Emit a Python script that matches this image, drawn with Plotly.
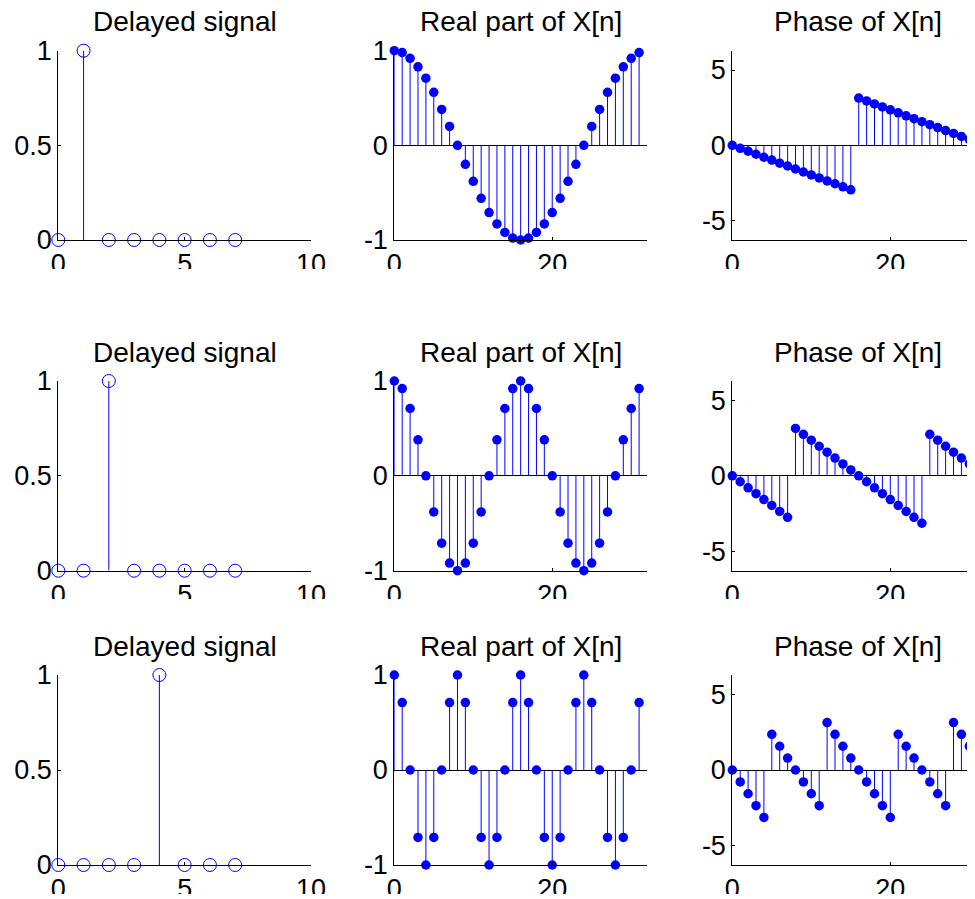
import plotly.graph_objects as go

# ---------------- data ----------------
n_sig = [0, 1, 2, 3, 4, 5, 6, 7]
delayed_1 = [0, 1, 0, 0, 0, 0, 0, 0]
delayed_2 = [0, 0, 1, 0, 0, 0, 0, 0]
delayed_3 = [0, 0, 0, 0, 1, 0, 0, 0]

k_idx = list(range(32))

real_1 = [1.00, 0.98, 0.92, 0.83, 0.71, 0.56, 0.38, 0.20, 0.00, -0.20, -0.38, -0.56,
          -0.71, -0.83, -0.92, -0.98, -1.00, -0.98, -0.92, -0.83, -0.71, -0.56, -0.38,
          -0.20, 0.00, 0.20, 0.38, 0.56, 0.71, 0.83, 0.92, 0.98]
real_2 = [1.00, 0.92, 0.71, 0.38, 0.00, -0.38, -0.71, -0.92, -1.00, -0.92, -0.71, -0.38,
          0.00, 0.38, 0.71, 0.92, 1.00, 0.92, 0.71, 0.38, 0.00, -0.38, -0.71, -0.92,
          -1.00, -0.92, -0.71, -0.38, 0.00, 0.38, 0.71, 0.92]
real_3 = [1.00, 0.71, 0.00, -0.71, -1.00, -0.71, 0.00, 0.71, 1.00, 0.71, 0.00, -0.71,
          -1.00, -0.71, 0.00, 0.71, 1.00, 0.71, 0.00, -0.71, -1.00, -0.71, 0.00, 0.71,
          1.00, 0.71, 0.00, -0.71, -1.00, -0.71, 0.00, 0.71]

phase_1 = [0.00, -0.20, -0.39, -0.59, -0.79, -0.98, -1.18, -1.37, -1.57, -1.77, -1.96,
           -2.16, -2.36, -2.55, -2.75, -2.95, 3.14, 2.95, 2.75, 2.55, 2.36, 2.16, 1.96,
           1.77, 1.57, 1.37, 1.18, 0.98, 0.79, 0.59, 0.39, 0.20]
phase_2 = [0.00, -0.39, -0.79, -1.18, -1.57, -1.96, -2.36, -2.75, 3.14, 2.75, 2.36, 1.96,
           1.57, 1.18, 0.79, 0.39, 0.00, -0.39, -0.79, -1.18, -1.57, -1.96, -2.36, -2.75,
           -3.14, 2.75, 2.36, 1.96, 1.57, 1.18, 0.79, 0.39]
phase_3 = [0.00, -0.79, -1.57, -2.36, -3.14, 2.36, 1.57, 0.79, 0.00, -0.79, -1.57, -2.36,
           3.14, 2.36, 1.57, 0.79, 0.00, -0.79, -1.57, -2.36, -3.14, 2.36, 1.57, 0.79,
           0.00, -0.79, -1.57, -2.36, 3.14, 2.36, 1.57, 0.79]

titles = ["Delayed signal", "Real part of X[n]", "Phase of X[n]"]
x_ticks = [[0, 5, 10], [0, 20], [0, 20]]
y_ticks = [[0, 0.5, 1], [-1, 0, 1], [-5, 0, 5]]
y_ticktext = [["0", "0.5", "1"], ["-1", "0", "1"], ["-5", "0", "5"]]
x_ranges = [[0, 10], [0, 32], [0, 30.72]]
y_ranges = [[0, 1], [-1, 1], [-6.2832, 6.2832]]

# ---------------- layout geometry (page pixels) ----------------
W, H = 975, 899
OFF = 8  # default page body margin
col_px = [(58.3, 311.0), (394.3, 647.0), (732.3, 975.0)]
col_full_right = [311.0, 647.0, 984.0]
row_px = [(50.7, 240.0), (381.0, 570.7), (675.0, 865.0)]

FONT = "Liberation Sans, Arial, sans-serif"
FS = 27
BLUE = "#0000FF"

rows_data = [
    (delayed_1, real_1, phase_1),
    (delayed_2, real_2, phase_2),
    (delayed_3, real_3, phase_3),
]

fig = go.Figure()
annotations = []
shapes = []
layout_axes = {}


def px_x(p):
    return (p - OFF) / W


def px_y(p):
    return 1 - (p - OFF) / H


def stems(xs, ys):
    sx, sy = [], []
    for x, y in zip(xs, ys):
        sx += [x, x, None]
        sy += [0, y, None]
    return sx, sy


idx = 0
for r in range(3):
    for c in range(3):
        idx += 1
        xa = "x" if idx == 1 else f"x{idx}"
        ya = "y" if idx == 1 else f"y{idx}"
        if c == 0:
            xs, ys = n_sig, rows_data[r][0]
        else:
            xs, ys = k_idx, rows_data[r][c]
        sx, sy = stems(xs, ys)
        fig.add_trace(go.Scatter(x=sx, y=sy, mode="lines", xaxis=xa, yaxis=ya,
                                 line=dict(color=BLUE, width=1), hoverinfo="skip",
                                 showlegend=False, cliponaxis=False))
        if c == 0:
            marker = dict(symbol="circle-open", size=13, color=BLUE, line=dict(width=1, color=BLUE))
        else:
            marker = dict(symbol="circle", size=9.5, color=BLUE, line=dict(width=0))
        fig.add_trace(go.Scatter(x=xs, y=ys, mode="markers", xaxis=xa, yaxis=ya,
                                 marker=marker, showlegend=False, cliponaxis=False))

        x0, x1 = col_px[c]
        y0, y1 = row_px[r]
        dom_x = [px_x(x0), min(px_x(x1), 1.0)]
        dom_y = [px_y(y1), px_y(y0)]
        key = "xaxis" if idx == 1 else f"xaxis{idx}"
        ykey = "yaxis" if idx == 1 else f"yaxis{idx}"
        layout_axes[key] = dict(
            domain=dom_x, range=x_ranges[c], anchor=ya, automargin=False,
            tickmode="array", tickvals=x_ticks[c], ticktext=[str(t) for t in x_ticks[c]],
            ticks="inside", ticklen=3, tickcolor="black",
            showline=True, linecolor="black", linewidth=1, mirror=False,
            showgrid=False, zeroline=False,
            tickfont=dict(family=FONT, size=FS, color="black"),
            fixedrange=True,
        )
        layout_axes[ykey] = dict(
            domain=dom_y, range=y_ranges[c], anchor=xa, automargin=False,
            tickmode="array", tickvals=y_ticks[c], ticktext=y_ticktext[c],
            ticks="inside", ticklen=3, tickcolor="black",
            showline=True, linecolor="black", linewidth=1, mirror=False,
            showgrid=False, zeroline=(c != 0), zerolinecolor="black", zerolinewidth=1,
            tickfont=dict(family=FONT, size=FS, color="black"),
            fixedrange=True,
        )
        xc = (col_px[c][0] + col_full_right[c]) / 2
        annotations.append(dict(
            text=titles[c], xref="paper", yref="paper",
            x=px_x(xc), y=px_y(y0 - 29), xanchor="center", yanchor="middle",
            showarrow=False, font=dict(family=FONT, size=FS + 1, color="black"),
        ))

# white bands emulating the cropped rows (cover bottom of x tick labels)
for (a, b) in [(269, 338), (599, 632), (894, 907)]:
    shapes.append(dict(type="rect", xref="paper", yref="paper", x0=0, x1=1,
                       y0=px_y(b), y1=px_y(a), fillcolor="white",
                       line=dict(width=0), layer="above"))

fig.update_layout(
    template="none",
    width=W, height=H,
    margin=dict(l=0, r=0, t=0, b=0, autoexpand=False),
    paper_bgcolor="white", plot_bgcolor="white",
    annotations=annotations, shapes=shapes,
    showlegend=False,
    **layout_axes,
)

fig.write_html("out.html")
